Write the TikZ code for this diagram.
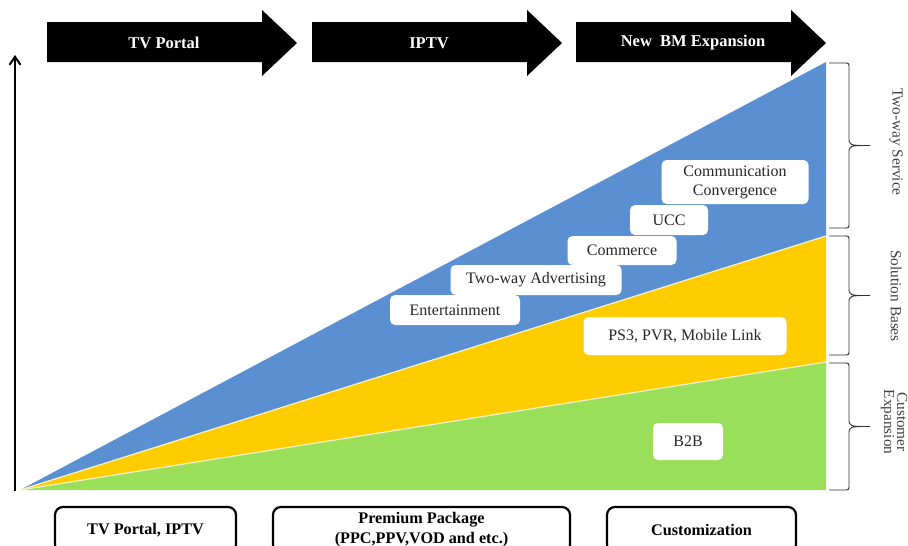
\documentclass[tikz,border=0pt]{standalone}
\usepackage{fontspec}
\setmainfont{Liberation Serif}
\usetikzlibrary{arrows.meta}
\definecolor{tblue}{HTML}{5A8FD2}
\definecolor{tyellow}{HTML}{FFCC00}
\definecolor{tgreen}{HTML}{9ADF5A}
\definecolor{tsep}{HTML}{F6F2C8}
\definecolor{ttext}{HTML}{262626}
\definecolor{tlabel}{HTML}{404040}
\begin{document}
\begin{tikzpicture}[x=1pt,y=-1pt,
  phasearrow/.style={fill=black,draw=none},
  headtxt/.style={text=white,font=\fontsize{16.5}{18}\selectfont\bfseries,inner sep=0pt},
  axisline/.style={line width=2pt,-{Straight Barb[length=8pt,width=11pt]}},
  sepline/.style={draw=tsep,line width=1.2pt},
  inbox/.style={fill=white,draw=none,rounded corners=5pt,text=ttext,
    font=\fontsize{16}{19}\selectfont,align=center,inner sep=0pt},
  botbox/.style={draw=black,line width=2.2pt,rounded corners=8pt,fill=white,
    font=\fontsize{16.2}{20}\selectfont\bfseries,align=center,inner sep=0pt,
    minimum height=46pt},
  bracestyle/.style={draw=black!80,line width=0.9pt},
  sidetxt/.style={text=tlabel,font=\fontsize{15.3}{13}\selectfont,rotate=-90,align=center,inner sep=0pt}
]
\useasboundingbox (0,0) rectangle (908,546);
\clip (0,0) rectangle (908,546);

% header arrows
\foreach \x/\t/\n in {47/TV Portal/h1, 312/IPTV/h2, 576/New\ \ BM Expansion/h3}{
  \fill[phasearrow] (\x,22) -- ++(215,0) -- ++(0,-12) -- ++(35,33) -- ++(-35,33) -- ++(0,-14) -- ++(-215,0) -- cycle;
  \node[headtxt] (\n) at (\x+117,43) {\t};
}

% triangle
\coordinate (O) at (20,490);
\coordinate (A) at (826,62);
\coordinate (B) at (826,236);
\coordinate (C) at (826,362);
\coordinate (D) at (826,490);
\fill[tblue] (O) -- (A) -- (B) -- cycle;
\fill[tyellow] (O) -- (B) -- (C) -- cycle;
\fill[tgreen] (O) -- (C) -- (D) -- cycle;
\draw[sepline] (O) -- (B);
\draw[sepline] (O) -- (C);

% axis
\coordinate (ax0) at (15,491);
\coordinate (ax1) at (15,55);
\draw[axisline] (ax0) -- (ax1);

% inner boxes
\node[inbox,minimum width=130pt,minimum height=30pt] (ent) at (455,310) {Entertainment};
\node[inbox,minimum width=171pt,minimum height=30pt] (twa) at (536,280) {Two-way Advertising};
\node[inbox,minimum width=109pt,minimum height=29pt] (com) at (622,250.5) {Commerce};
\node[inbox,minimum width=78pt,minimum height=30pt] (ucc) at (669,220) {UCC};
\node[inbox,minimum width=147pt,minimum height=44pt] (cc) at (735,182) {Communication\\Convergence};
\node[inbox,minimum width=203pt,minimum height=38pt] (ps3) at (685,336) {PS3, PVR, Mobile Link};
\node[inbox,minimum width=70pt,minimum height=37pt] (b2b) at (688,441.5) {B2B};

% braces
\foreach \t/\b in {63/228, 236/355, 363/490}{
  \pgfmathsetmacro\m{(\t+\b)/2}
  \draw[bracestyle] (829,\t) -- (844,\t) .. controls (849,\t) .. (849,\t+5) -- (849,\m-8)
    .. controls (849,\m) .. (870,\m) .. controls (849,\m) .. (849,\m+8)
    -- (849,\b-5) .. controls (849,\b) .. (844,\b) -- (829,\b);
}
\node[sidetxt] (s1) at (896,142) {Two-way Service};
\node[sidetxt] (s2) at (896,296) {Solution Bases};
\node[sidetxt] (s3) at (894,422) {Customer\\Expansion};

% bottom boxes
\node[botbox,minimum width=181pt] (b1) at (145.5,530) {TV Portal, IPTV};
\node[botbox,minimum width=297pt] (b2) at (421.5,530) {Premium Package\\(PPC,PPV,VOD and etc.)};
\node[botbox,minimum width=189pt] (b3) at (701.5,530) {Customization};
\end{tikzpicture}
\end{document}
